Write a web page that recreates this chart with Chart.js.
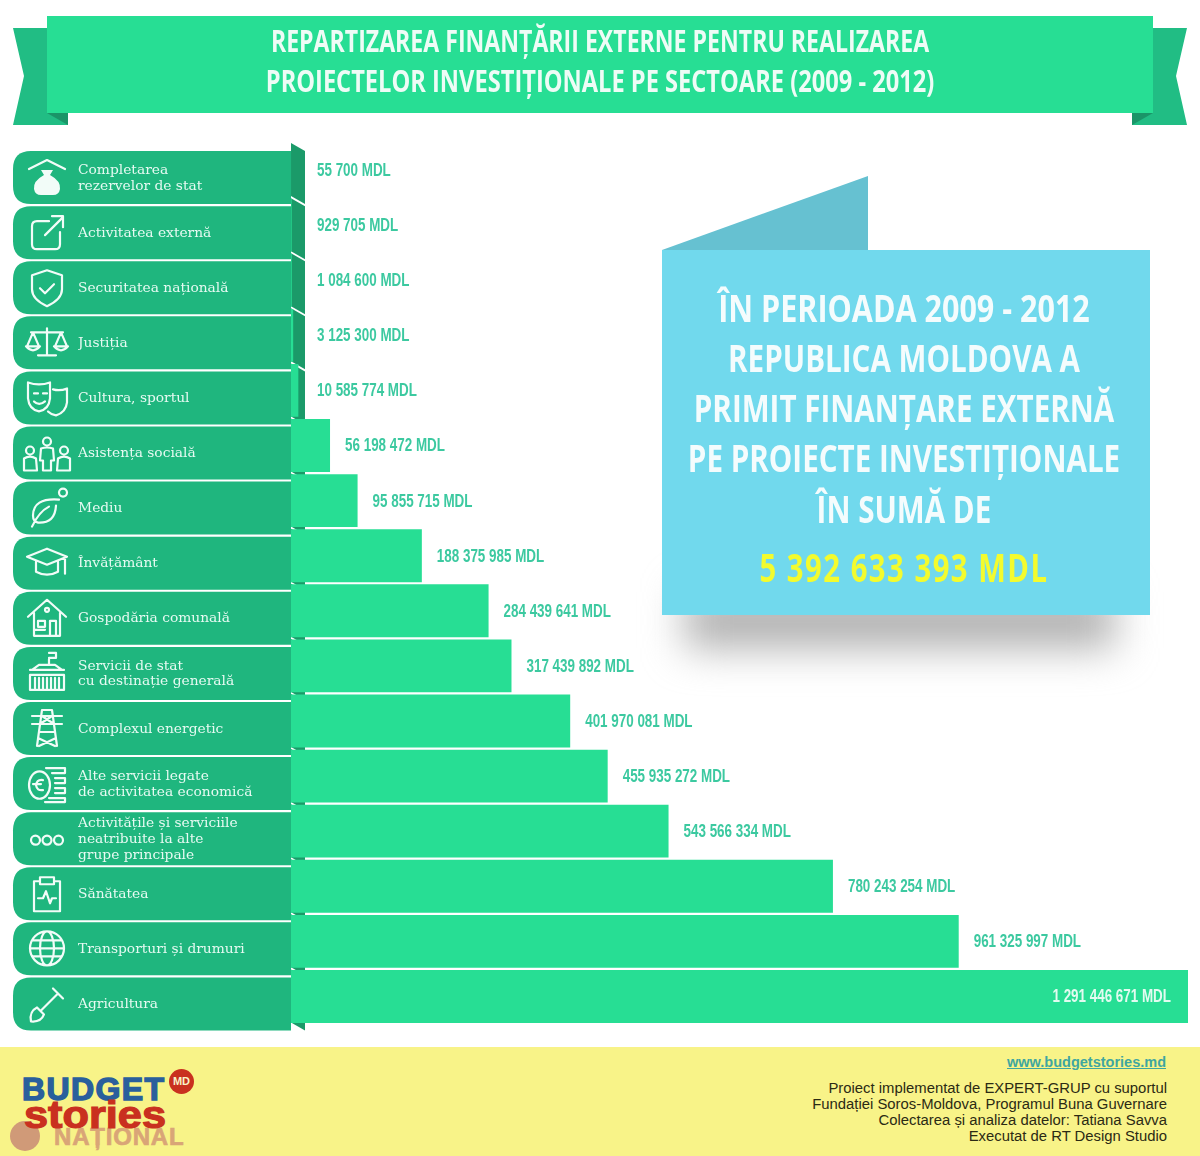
<!DOCTYPE html>
<html lang="ro">
<head>
<meta charset="utf-8">
<title>Repartizarea finanțării externe</title>
<script src="https://cdn.jsdelivr.net/npm/chart.js@4"></script>
<style>
  html, body { margin: 0; padding: 0; background: #fff; }
  #page { position: relative; width: 1200px; height: 1156px; overflow: hidden; background: #fff; }
  #page > * { position: absolute; }
  #decor { left: 0; top: 0; }
  #progressChart { left: 0; top: 0; }
  .narrow { font-family: "Open Sans", sans-serif; font-weight: 700; white-space: nowrap; }
  /* no condensed face installed, so the wide one is squeezed */
  .squeeze { position: absolute; left: -50%; width: 200%; text-align: center; transform-origin: 50% 50%; }
  #title { left: 47px; top: 21px; width: 1106px; height: 80px; color: #eefcf6; font-size: 30px; line-height: 40px; }
  #shadow { left: 685px; top: 592px; width: 430px; height: 56px; background: #b0b0b0; filter: blur(20px); }
  #callout { left: 662px; top: 250px; width: 488px; height: 365px; background: #71d9ed; color: #f4fcfd; font-size: 37px; }
  #callout .squeeze { line-height: 50px; margin-left: -2px; transform: scaleX(.8); }
  #callout #total { color: #f3fb2e; font-size: 39px; letter-spacing: 2px; transform: scaleX(.75); }
  #footer { left: 0; top: 1047px; width: 1200px; height: 109px; background: #f8f388; }
  #site { right: 34px; top: 1054px; font: 700 14.5px "Liberation Sans", sans-serif; color: #3fa6a0; text-decoration: underline; }
  #credits { right: 33px; top: 1080px; text-align: right; font: 14.85px/16px "Liberation Sans", sans-serif; color: #2b2a14; }
  .logo { font-family: "Liberation Sans", sans-serif; font-weight: 700; white-space: nowrap; transform-origin: 0 50%; }
  #logoBudget { left: 22px; top: 1071px; font-size: 32px; line-height: 36px; color: #2a5f9c; -webkit-text-stroke: 1.5px #2a5f9c; letter-spacing: 1.4px; }
  #logoStories { left: 24px; top: 1096px; font-size: 38px; line-height: 38px; color: #c9301f; -webkit-text-stroke: 1.2px #c9301f; transform: scaleX(1.14); }
  #logoMd { left: 169px; top: 1069px; width: 25px; height: 25px; border-radius: 50%; background: #c9301f; color: #f8f3c8; font-size: 11px; line-height: 25px; text-align: center; }
  #logoNational { left: 54px; top: 1125px; font-size: 24px; line-height: 24px; color: #d9a577; letter-spacing: .8px; -webkit-text-stroke: .7px #d9a577; }
  #logoDot { left: 10px; top: 1121px; width: 30px; height: 30px; border-radius: 50%; background: #d09a78; }
</style>
</head>
<body>
<div id="page">
  <svg id="decor" width="1200" height="1156">
    <polygon points="13,28 47,28 47,113 68,113 68,125 13,125 24,76" fill="#21bd84"/>
    <polygon points="47,113 68,113 68,125" fill="#1a9568"/>
    <polygon points="1187,28 1153,28 1153,113 1132,113 1132,125 1187,125 1176,76" fill="#21bd84"/>
    <polygon points="1153,113 1132,113 1132,125" fill="#1a9568"/>
    <rect x="47" y="16" width="1106" height="97" fill="#27de94"/>
    <polygon points="662,250 868,176 868,250" fill="#66c1d1"/>
  </svg>
  <canvas id="progressChart" width="1200" height="1156"></canvas>
  <div id="title" class="narrow">
    <div class="squeeze" style="top:0;transform:scaleX(.77)">REPARTIZAREA FINANȚĂRII EXTERNE PENTRU REALIZAREA</div>
    <div class="squeeze" style="top:40px;transform:scaleX(.788)">PROIECTELOR INVESTIȚIONALE PE SECTOARE (2009 - 2012)</div>
  </div>
  <div id="shadow"></div>
  <div id="callout" class="narrow">
    <div class="squeeze" style="top:33px;transform:scaleX(.825)">ÎN PERIOADA 2009 - 2012</div>
    <div class="squeeze" style="top:83px">REPUBLICA MOLDOVA A</div>
    <div class="squeeze" style="top:133px">PRIMIT FINANȚARE EXTERNĂ</div>
    <div class="squeeze" style="top:183px">PE PROIECTE INVESTIȚIONALE</div>
    <div class="squeeze" style="top:234px">ÎN SUMĂ DE</div>
    <div class="squeeze" id="total" style="top:292px">5 392 633 393 MDL</div>
  </div>
  <div id="footer"></div>
  <div id="site">www.budgetstories.md</div>
  <div id="credits">Proiect implementat de EXPERT-GRUP cu suportul<br>Fundației Soros-Moldova, Programul Buna Guvernare<br>Colectarea și analiza datelor: Tatiana Savva<br>Executat de RT Design Studio</div>
  <div id="logoDot"></div>
  <div id="logoNational" class="logo">NAȚIONAL</div>
  <div id="logoBudget" class="logo">BUDGET</div>
  <div id="logoStories" class="logo">stories</div>
  <div id="logoMd" class="logo">MD</div>
</div>
<script>
// Data
const categories = [
  ["Completarea", "rezervelor de stat"],
  "Activitatea externă",
  "Securitatea națională",
  "Justiția",
  "Cultura, sportul",
  "Asistența socială",
  "Mediu",
  "Învățământ",
  "Gospodăria comunală",
  ["Servicii de stat", "cu destinație generală"],
  "Complexul energetic",
  ["Alte servicii legate", "de activitatea economică"],
  ["Activitățile și serviciile", "neatribuite la alte", "grupe principale"],
  "Sănătatea",
  "Transporturi și drumuri",
  "Agricultura"
];
const amounts = [
  55700, 929705, 1084600, 3125300, 10585774, 56198472, 95855715, 188375985,
  284439641, 317439892, 401970081, 455935272, 543566334, 780243254, 961325997, 1291446671
];

// Row icons, drawn around the middle of each row
const icons = [
  { s: "M-18 -8 L0 -17 L18 -8", f: "M-6 -7 H6 L3 -2 Q14 4 13 12 Q12 18 6 18 H-6 Q-12 18 -13 12 Q-14 4 -3 -2 Z" },
  { s: "M2 -11 H-10 Q-15 -11 -15 -6 V12 Q-15 17 -10 17 H8 Q13 17 13 12 V0 M-2 3 L16 -15 M5 -16 H16 V-5" },
  { s: "M0 -17 L15 -12 V2 Q15 12 0 19 Q-15 12 -15 2 V-12 Z M-7 1 L-2 6 L7 -3" },
  { s: "M0 -14 V12 M-9 13 H9 M-16 -10 H16 M-14 -10 L-20 4 M-14 -10 L-8 4 M-21 4 Q-14 12 -7 4 Z M14 -10 L8 4 M14 -10 L20 4 M7 4 Q14 12 21 4 Z" },
  { s: "M-19 -15 Q-8 -11 3 -15 V1 Q2 12 -8 14 Q-18 12 -19 1 Z M-13 -4 H-9 M-4 -4 H0 M-13 4 Q-8 9 -2 4 M6 -8 Q13 -6 20 -9 V5 Q19 15 9 18 Q4 17 1 14" },
  { s: "M-21 -2 A4 4 0 1 0 -13 -2 A4 4 0 1 0 -21 -2 M-4 -11 A4 4 0 1 0 4 -11 A4 4 0 1 0 -4 -11 M13 -2 A4 4 0 1 0 21 -2 A4 4 0 1 0 13 -2 M-6 -4 Q0 -6 6 -4 L7 8 H4 V18 H-4 V8 H-7 Z M-23 18 V6 Q-17 2 -11 6 L-10 18 Z M11 6 Q17 2 23 6 V18 H10 Z" },
  { s: "M12 -8 Q-14 -10 -14 8 Q-14 14 -9 15 Q8 16 9 -2 M-15 19 Q-8 4 2 -1 M12 -15 A4 4 0 1 0 20 -15 A4 4 0 1 0 12 -15" },
  { s: "M0 -14 L20 -6 L0 2 L-20 -6 Z M-11 -1 V9 Q0 15 11 9 V-1 M18 -5 V6 M18 6 V11" },
  { s: "M-19 -1 L0 -18 L19 -1 M-13 -5 V18 H13 V-5 M-9 3 H-2 V9 H-9 Z M3 3 H9 V18 H3 Z M-2 -8 A2 2 0 1 0 2 -8 A2 2 0 1 0 -2 -8 M-13 12 H-2" },
  { s: "M2 -14 V-8 M2 -20 H9 V-15 H2 M-17 -3 H17 M-15 -3 L-8 -8 H8 L15 -3 M-17 2 H17 V17 H-17 Z M-12 5 V15 M-8 5 V15 M-4 5 V15 M0 5 V15 M4 5 V15 M8 5 V15 M12 5 V15" },
  { s: "M-5 -18 H5 L10 18 M-5 -18 L-10 18 M-15 -12 H15 M-15 -4 H15 M-5 -12 L7 -4 M5 -12 L-7 -4 M-8 4 H8 M-9 10 L8 18 M9 10 L-8 18" },
  { s: "M-18 2 A10 13 0 1 0 3 2 A10 13 0 1 0 -18 2 M-1 -15 H18 V-10 H5 M8 -5 H18 V0 H8 M8 5 H18 V10 H8 M2 15 H18 V19 H-2 M-4 -3 Q-10 -4 -11 2 Q-10 8 -4 7 M-14 1 H-6" },
  { s: "M-16 2 A4.5 4.5 0 1 0 -7 2 A4.5 4.5 0 1 0 -16 2 M-4.5 2 A4.5 4.5 0 1 0 4.5 2 A4.5 4.5 0 1 0 -4.5 2 M7 2 A4.5 4.5 0 1 0 16 2 A4.5 4.5 0 1 0 7 2" },
  { s: "M-8 -12 H-13 V18 H13 V-12 H8 M-7 -16 H7 V-9 H-7 Z M-9 5 H-4 L-1 -2 L3 10 L5 5 H9" },
  { s: "M-17 0 A17 17 0 1 0 17 0 A17 17 0 1 0 -17 0 M-7 0 A7 17 0 1 0 7 0 A7 17 0 1 0 -7 0 M-17 0 H17 M-14 -8 H14 M-14 8 H14" },
  { s: "M-16 18 Q-18 8 -10 4 L-3 11 Q-6 19 -16 18 Z M-6 7 L11 -10 M6 -15 L16 -5 M9 -12 L13 -8" }
];

// Formats 929705 as "929 705 MDL"
function amountLabel(value) {
  return String(value).replace(/\B(?=(\d{3})+$)/g, " ") + " MDL";
}

function rowPath(ctx, left, top, right, bottom, radius) {
  ctx.beginPath();
  ctx.moveTo(right, top);
  ctx.lineTo(left + radius, top);
  ctx.quadraticCurveTo(left, top, left, top + radius);
  ctx.lineTo(left, bottom - radius);
  ctx.quadraticCurveTo(left, bottom, left + radius, bottom);
  ctx.lineTo(right, bottom);
  ctx.closePath();
}

// Green rows and the darker fold sit behind the bars
const rowsPlugin = {
  id: "rows",
  beforeDatasetsDraw(chart) {
    const { ctx, scales: { y }, chartArea } = chart;
    const left = chartArea.left;
    categories.forEach((c, i) => {
      const mid = y.getPixelForValue(i);
      const top = mid - 27;
      ctx.fillStyle = "#1fb67e";
      rowPath(ctx, 13, top + 8, left, top + 61, 18);
      ctx.fill();
      ctx.fillStyle = "#1b9a69";
      ctx.beginPath();
      ctx.moveTo(left, top);
      ctx.lineTo(left + 14, top + 8);
      ctx.lineTo(left + 14, top + 61);
      ctx.lineTo(left, top + 53);
      ctx.closePath();
      ctx.fill();

      const icon = icons[i];
      ctx.save();
      ctx.translate(47, mid + 7);
      ctx.strokeStyle = "#f2fcf8";
      ctx.fillStyle = "#f2fcf8";
      ctx.lineWidth = 2.2;
      ctx.lineJoin = "round";
      ctx.lineCap = "round";
      ctx.stroke(new Path2D(icon.s));
      if (icon.f) ctx.fill(new Path2D(icon.f));
      ctx.restore();
    });
  }
};

// Amounts next to the bars, squeezed like the title
const amountsPlugin = {
  id: "amountLabels",
  afterDatasetsDraw(chart) {
    const { ctx, chartArea } = chart;
    const bars = chart.getDatasetMeta(0).data;
    const squeeze = 0.745;
    ctx.save();
    ctx.font = '700 18px "Liberation Sans", sans-serif';
    ctx.fillStyle = "#3cc9a0";
    ctx.textBaseline = "middle";
    bars.forEach((bar, i) => {
      const last = i === bars.length - 1;
      const x = last ? 1171 : Math.max(chartArea.left + 26, bar.x + 15);
      ctx.save();
      ctx.translate(x, bar.y + 1);
      ctx.scale(squeeze, 1);
      ctx.textAlign = last ? "right" : "left";
      if (last) ctx.fillStyle = "#e2fbf0";
      ctx.fillText(amountLabel(amounts[i]), 0, 0);
      ctx.restore();
    });
    ctx.restore();
  }
};

new Chart(document.getElementById("progressChart"), {
  type: "bar",
  data: {
    labels: categories,
    datasets: [{
      data: amounts,
      backgroundColor: "#27de94",
      borderWidth: 0,
      categoryPercentage: 1,
      barPercentage: 0.96
    }]
  },
  plugins: [rowsPlugin, amountsPlugin],
  options: {
    indexAxis: "y",
    responsive: false,
    animation: false,
    layout: { padding: { left: 78, right: 12, top: 142.5, bottom: 132 } },
    plugins: { legend: { display: false }, tooltip: { enabled: false }, title: { display: false } },
    scales: {
      x: { display: false, min: 0, max: 1291446671 },
      y: {
        grid: { display: false, drawTicks: false },
        border: { display: false },
        afterFit(scale) { scale.width = 213; },
        ticks: {
          z: 1,
          autoSkip: false,
          crossAlign: "far",
          padding: 0,
          labelOffset: 8,
          color: "#e6faf2",
          font: { family: '"DejaVu Serif", serif', size: 13.8, lineHeight: 1.15 }
        }
      }
    }
  }
});
</script>
</body>
</html>
